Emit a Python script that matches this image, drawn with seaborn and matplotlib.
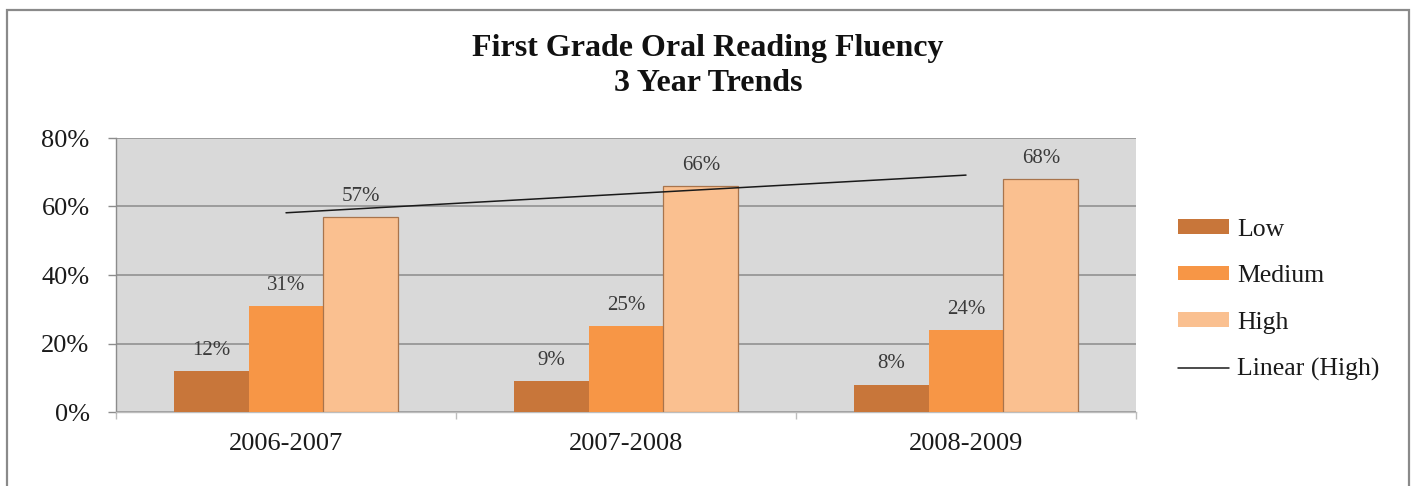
import numpy as np
import pandas as pd
import seaborn as sns
import matplotlib.pyplot as plt
from matplotlib.patches import Rectangle
from matplotlib.ticker import FuncFormatter, FixedLocator

years = ["2006-2007", "2007-2008", "2008-2009"]
levels = ["Low", "Medium", "High"]
low = [12, 9, 8]
medium = [31, 25, 24]
high = [57, 66, 68]
colors = ["#C8763A", "#F79646", "#FAC090"]

df = pd.DataFrame({
    "year": years * 3,
    "level": [lv for lv in levels for _ in years],
    "value": low + medium + high,
})

sns.set_theme(style="white")
plt.rcParams["font.family"] = ["Liberation Serif", "DejaVu Serif"]

fig = plt.figure(figsize=(14.16, 4.86), dpi=100)
fig.patch.set_facecolor("white")

# outer chart frame
fig.patches.append(Rectangle((7 / 1416, -0.05), 1402 / 1416, 1.05 - 10 / 486,
                             transform=fig.transFigure, fill=False,
                             edgecolor="#8a8a8a", linewidth=1.6, zorder=0))

ax = fig.add_axes([116 / 1416, 1 - 412 / 486, 1020 / 1416, 274 / 486])
ax.set_facecolor("#D9D9D9")

sns.barplot(data=df, x="year", y="value", hue="level", order=years,
            hue_order=levels, palette=colors, width=0.66, gap=0,
            saturation=1, linewidth=0, edgecolor="none", ax=ax, zorder=3)

for bar in ax.containers[2]:
    bar.set_edgecolor("#A8744C")
    bar.set_linewidth(0.9)

for cont in ax.containers:
    ax.bar_label(cont, labels=[f"{v:.0f}%" for v in cont.datavalues],
                 padding=8, fontsize=15, color="#3a3a3a", zorder=5)

# linear trend of the High series
sns.regplot(x=np.arange(len(years)), y=np.array(high, dtype=float),
            scatter=False, ci=None, truncate=True, ax=ax,
            line_kws={"color": "#1a1a1a", "linewidth": 1.1, "zorder": 4},
            label="Linear (High)")

ax.set_xlim(-0.5, 2.5)
ax.set_ylim(0, 80)
ax.yaxis.set_major_locator(FixedLocator([0, 20, 40, 60, 80]))
ax.yaxis.set_major_formatter(FuncFormatter(lambda v, p: f"{v:.0f}%"))
ax.grid(axis="y", color="#8C8C8C", linewidth=1.1, zorder=1)
ax.set_axisbelow(True)
ax.set_xlabel("")
ax.set_ylabel("")

for side in ["top", "right"]:
    ax.spines[side].set_visible(False)
ax.spines["left"].set_color("#8C8C8C")
ax.spines["bottom"].set_color("#BDBDBD")
ax.spines["left"].set_linewidth(1.0)
ax.spines["bottom"].set_linewidth(1.0)

ax.tick_params(axis="y", which="major", left=True, length=6, width=1,
               color="#8C8C8C", labelsize=19, pad=13, labelcolor="#1a1a1a")
ax.tick_params(axis="x", which="major", bottom=False, labelsize=19, pad=9,
               labelcolor="#1a1a1a")
ax.xaxis.set_minor_locator(FixedLocator([-0.5, 0.5, 1.5, 2.5]))
ax.tick_params(axis="x", which="minor", bottom=True, length=5, width=1,
               color="#BDBDBD")

handles, labels = ax.get_legend_handles_labels()
order = [labels.index(n) for n in levels + ["Linear (High)"]]
leg = ax.legend([handles[i] for i in order], [labels[i] for i in order],
                loc="center left", bbox_to_anchor=(1165 / 1416, 1 - 300 / 486),
                bbox_transform=fig.transFigure, frameon=False, fontsize=18.5,
                handlelength=2.0, handleheight=0.5, handletextpad=0.3,
                labelspacing=0.95, borderpad=0)
for t in leg.get_texts():
    t.set_color("#1a1a1a")

fig.text(0.5, 1 - 66 / 486, "First Grade Oral Reading Fluency\n3 Year Trends",
         ha="center", va="center", fontsize=23, fontweight="bold",
         linespacing=1.3, color="#111111")

fig.savefig("out.png", dpi=100)
